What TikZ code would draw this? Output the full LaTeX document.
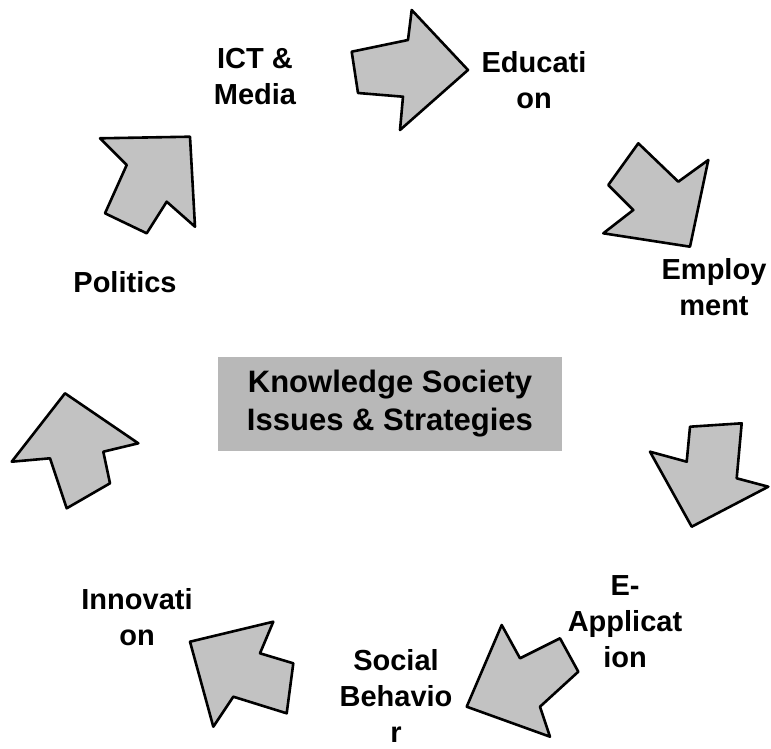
\documentclass[tikz,border=0pt]{standalone}
\usepackage{fontspec}
\setmainfont{Liberation Sans}
\begin{document}
\begin{tikzpicture}[x=1pt,y=-1pt,
  blockarrow/.style={draw=black, line width=2.6pt, line join=round, fill=black!24},
  lbl/.style={font=\fontsize{29}{36}\selectfont\bfseries, align=center, inner sep=0pt},
  hub/.style={fill=black!28, minimum width=344pt, minimum height=94pt, inner sep=0pt,
              font=\fontsize{31}{38}\selectfont\bfseries, align=center}]
\useasboundingbox (0,0) rectangle (771,749);

% central topic
\node[hub] (hub) at (390,404) {Knowledge Society\\Issues \& Strategies};

% the seven stages around the cycle
\node[lbl] (ict)  at (255,77)  {ICT \&\\Media};
\node[lbl] (edu)  at (534,80)  {Educati\\on};
\node[lbl] (emp)  at (714,287) {Employ\\ment};
\node[lbl] (eapp) at (625,622) {E-\\Applicat\\ion};
\node[lbl] (soc)  at (396,696) {Social\\Behavio\\r};
\node[lbl] (inn)  at (137,617) {Innovati\\on};
\node[lbl] (pol)  at (125,282) {Politics};

% block arrows linking the stages
\draw[blockarrow] (351.7,51.7) -- (408,40) -- (411.7,10) -- (468,70) -- (400,130) -- (403,96.7) -- (358,93) -- cycle;
\draw[blockarrow] (638.3,143.3) -- (678.3,181.7) -- (708.3,160) -- (690,246.7) -- (603.3,233.3) -- (633.3,210) -- (608.3,185) -- cycle;
\draw[blockarrow] (690,426.7) -- (741.7,423.3) -- (736.7,478.3) -- (768.3,486.7) -- (691.7,526.7) -- (650,451.7) -- (686.7,461.7) -- cycle;
\draw[blockarrow] (501.7,625) -- (520,658.3) -- (560,638.3) -- (578.3,671.7) -- (540,706.7) -- (550,736.7) -- (466.7,706.7) -- cycle;
\draw[blockarrow] (190,641.7) -- (273.3,621.7) -- (260,653.3) -- (293.3,663.3) -- (286.7,713.3) -- (233.3,696.7) -- (213.3,726.7) -- cycle;
\draw[blockarrow] (65,393.3) -- (138.3,443.3) -- (103.3,451.7) -- (110,483.3) -- (66.7,508.3) -- (50,458.3) -- (11.7,461.7) -- cycle;
\draw[blockarrow] (190,136.7) -- (195,226.7) -- (166.7,201.7) -- (146.7,233.3) -- (105,213.3) -- (126.7,165) -- (100,138.3) -- cycle;
\end{tikzpicture}
\end{document}
